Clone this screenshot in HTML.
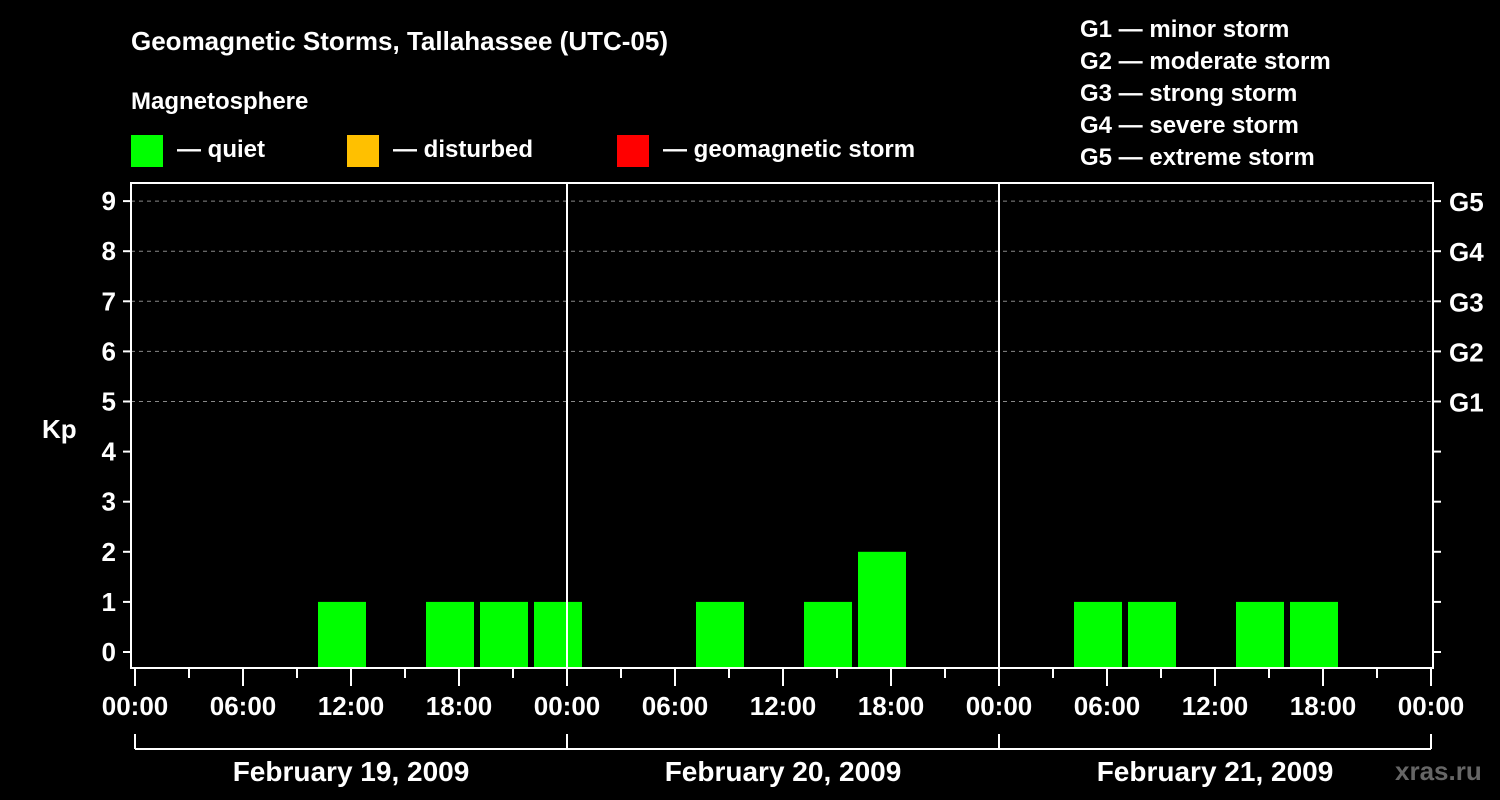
<!DOCTYPE html>
<html><head><meta charset="utf-8"><style>
body{margin:0;background:#000;width:1500px;height:800px;overflow:hidden}
svg{display:block;font-family:"Liberation Sans",Arial,sans-serif;font-weight:bold;fill:#fff}
</style></head><body>
<svg id="chart" width="1500" height="800" viewBox="0 0 1500 800">
<text x="131" y="50" font-size="26">Geomagnetic Storms, Tallahassee (UTC-05)</text>
<text x="131" y="109" font-size="24">Magnetosphere</text>
<g><rect x="131" y="135" width="32" height="32" fill="#00ff00"/><text x="177" y="157" font-size="24">— quiet</text></g>
<g><rect x="347" y="135" width="32" height="32" fill="#ffc000"/><text x="393" y="157" font-size="24">— disturbed</text></g>
<g><rect x="617" y="135" width="32" height="32" fill="#ff0000"/><text x="663" y="157" font-size="24">— geomagnetic storm</text></g>
<g font-size="24">
<text x="1080" y="37">G1 — minor storm</text><text x="1080" y="69">G2 — moderate storm</text><text x="1080" y="101">G3 — strong storm</text><text x="1080" y="133">G4 — severe storm</text><text x="1080" y="165">G5 — extreme storm</text></g>
<text x="42" y="438" font-size="26">Kp</text>
<text x="1395" y="780" font-size="26" fill="#666" style="fill:#666">xras.ru</text>
<g id="grid"></g><g id="bars"></g><g id="axes"></g>
</svg>
<script>
const kpValues=[0,0,0,1,0,1,1,1,0,0,1,0,1,2,0,0,0,1,1,0,1,1,0,0];
const slotStartHour=1; // local hour of first 3h slot
const dayLabels=["February 19, 2009","February 20, 2009","February 21, 2009"];
const gLabels=["G1","G2","G3","G4","G5"];
const X0=135,PXH=18,Y0=652,PXK=50.1,BOT=668;
const x=h=>X0+h*PXH, y=k=>Y0-k*PXK;
const NS="http://www.w3.org/2000/svg";
function mk(t,a,p){const e=document.createElementNS(NS,t);for(const k in a)e.setAttribute(k,a[k]);p.appendChild(e);return e;}
const grid=document.getElementById('grid'),bars=document.getElementById('bars'),axes=document.getElementById('axes');
for(let k=5;k<=9;k++){const l=mk('line',{x1:131,x2:1433,y1:y(k),y2:y(k),stroke:'#888','stroke-dasharray':'4,4','stroke-width':1},grid);

}
kpValues.forEach((v,i)=>{if(v<=0)return;const h=slotStartHour+i*3;const x1=x(h)+3,x2=Math.min(x(h+3)-3,1431);
const r=mk('rect',{x:x1,y:y(v),width:x2-x1,height:BOT-y(v),fill:v>=5?'#ff0000':v>=4?'#ffc000':'#00ff00'},bars);

});
const frame=mk('rect',{x:131,y:183,width:1302,height:485,fill:'none',stroke:'#fff','stroke-width':2},axes);


for(let d=1;d<3;d++){const l=mk('line',{x1:x(d*24),x2:x(d*24),y1:183,y2:668,stroke:'#fff','stroke-width':2},axes);

}
for(let k=0;k<=9;k++){mk('line',{x1:123,x2:131,y1:y(k),y2:y(k),stroke:'#fff','stroke-width':2},axes);
mk('line',{x1:1433,x2:1441,y1:y(k),y2:y(k),stroke:'#fff','stroke-width':2},axes);
const t=mk('text',{x:116,y:y(k)+9,'font-size':26,'text-anchor':'end'},axes);t.textContent=k;

}
gLabels.forEach((g,i)=>{const t=mk('text',{x:1449,y:y(5+i)+10,'font-size':26},axes);t.textContent=g;

});
for(let h=0;h<=72;h+=3){const major=h%6==0;mk('line',{x1:x(h),x2:x(h),y1:669,y2:major?686:678,stroke:'#fff','stroke-width':2},axes);
if(major){const t=mk('text',{x:x(h),y:715,'font-size':26,'text-anchor':'middle'},axes);t.textContent=String(h%24).padStart(2,'0')+':00';

}}
mk('line',{x1:x(0),x2:x(72),y1:749,y2:749,stroke:'#fff','stroke-width':2},axes);
for(let d=0;d<=3;d++)mk('line',{x1:x(d*24),x2:x(d*24),y1:734,y2:749,stroke:'#fff','stroke-width':2},axes);
dayLabels.forEach((s,d)=>{const t=mk('text',{x:x(d*24+12),y:781,'font-size':28,'text-anchor':'middle'},axes);t.textContent=s;

});
</script>
</body></html>
